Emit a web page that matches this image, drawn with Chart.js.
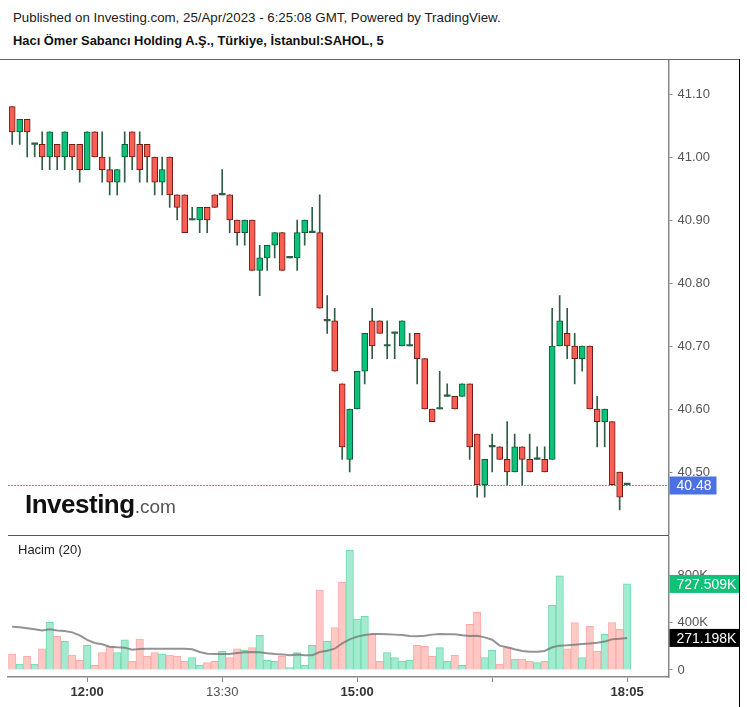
<!DOCTYPE html>
<html>
<head>
<meta charset="utf-8">
<script src="https://cdn.jsdelivr.net/npm/chart.js@4.4.0/dist/chart.umd.min.js"></script>
<style>
  body { margin: 0; background: #fff; width: 747px; height: 707px; overflow: hidden; position: relative;
         font-family: "Liberation Sans", Arial, sans-serif; }
  .abs { position: absolute; }
  #hdr1 { left: 13px; top: 10px; font-size: 13.3px; color: #1a1a1a; white-space: nowrap; }
  #hdr2 { left: 13px; top: 33px; font-size: 12.9px; font-weight: bold; color: #111; white-space: nowrap; }
  #topLine { left: 0; top: 59px; width: 740px; height: 1px; background: #666; }
  #sepLine { left: 8px; top: 535px; width: 661px; height: 1px; background: #555; }
  #rBorder { left: 739px; top: 59px; width: 1px; height: 648px; background: #000; }
  #logo { left: 25px; top: 489px; white-space: nowrap; }
  #logo b { font-size: 26px; color: #111; letter-spacing: -0.5px; }
  #logo span { font-size: 19px; color: #555; }
  #volTitle { left: 18px; top: 542px; font-size: 13px; color: #222; }
  #priceCanvas { left: 0; top: 60px; width: 747px; height: 475px; }
  #volCanvas { left: 0; top: 536px; width: 747px; height: 171px; }
</style>
</head>
<body>
<div id="hdr1" class="abs">Published on Investing.com, 25/Apr/2023 - 6:25:08 GMT, Powered by TradingView.</div>
<div id="hdr2" class="abs">Hacı Ömer Sabancı Holding A.Ş., Türkiye, İstanbul:SAHOL, 5</div>
<canvas id="priceCanvas" class="abs" width="747" height="475"></canvas>
<canvas id="volCanvas" class="abs" width="747" height="171"></canvas>
<div id="topLine" class="abs"></div>
<div id="sepLine" class="abs"></div>
<div id="rBorder" class="abs"></div>
<div id="logo" class="abs"><b>Investing</b><span>.com</span></div>
<div id="volTitle" class="abs">Hacim (20)</div>

<script>
// 5-minute bars, 11:10 .. 17:55, then the 18:05 closing bar
const categories = [];
for (let m = 11 * 60 + 10; m <= 17 * 60 + 55; m += 5) {
  categories.push(String(Math.floor(m / 60)).padStart(2, '0') + ':' + String(m % 60).padStart(2, '0'));
}
categories.push('18:05');

const opens = [
  41.08, 41.04, 41.06, 41.02, 41.02, 41.00, 41.02, 41.00, 41.02, 41.02,
  40.98, 41.04, 41.00, 40.98, 40.96, 41.00, 41.04, 41.02, 41.02, 41.00,
  40.96, 41.00, 40.94, 40.94, 40.90, 40.90, 40.92, 40.94, 40.94, 40.94,
  40.90, 40.88, 40.90, 40.82, 40.84, 40.86, 40.88, 40.84, 40.84, 40.88,
  40.88, 40.88, 40.74, 40.74, 40.64, 40.52, 40.60, 40.66, 40.74, 40.74,
  40.70, 40.72, 40.70, 40.70, 40.72, 40.68, 40.60, 40.60, 40.62, 40.62,
  40.62, 40.64, 40.56, 40.48, 40.54, 40.54, 40.52, 40.50, 40.54, 40.52,
  40.52, 40.52, 40.52, 40.70, 40.72, 40.70, 40.68, 40.70, 40.60, 40.58,
  40.58, 40.50, 40.48
];
const highs = [
  41.08, 41.06, 41.06, 41.02, 41.04, 41.04, 41.02, 41.04, 41.02, 41.02,
  41.04, 41.04, 41.04, 41.00, 40.98, 41.04, 41.04, 41.04, 41.02, 41.00,
  41.00, 41.00, 40.94, 40.94, 40.92, 40.92, 40.92, 40.94, 40.98, 40.94,
  40.90, 40.90, 40.90, 40.86, 40.86, 40.88, 40.88, 40.84, 40.90, 40.90,
  40.92, 40.94, 40.78, 40.76, 40.64, 40.60, 40.66, 40.72, 40.76, 40.74,
  40.74, 40.72, 40.74, 40.72, 40.72, 40.68, 40.60, 40.66, 40.64, 40.62,
  40.64, 40.64, 40.56, 40.52, 40.56, 40.54, 40.58, 40.56, 40.54, 40.56,
  40.54, 40.54, 40.76, 40.78, 40.76, 40.72, 40.70, 40.70, 40.62, 40.60,
  40.58, 40.50, 40.48
];
const lows = [
  41.02, 41.02, 41.00, 41.00, 40.98, 40.98, 40.98, 40.98, 40.98, 40.96,
  40.98, 41.00, 40.96, 40.94, 40.94, 40.96, 40.98, 40.96, 40.96, 40.94,
  40.94, 40.92, 40.90, 40.88, 40.90, 40.88, 40.88, 40.92, 40.94, 40.88,
  40.86, 40.86, 40.82, 40.78, 40.82, 40.84, 40.82, 40.84, 40.82, 40.86,
  40.88, 40.76, 40.72, 40.66, 40.52, 40.50, 40.60, 40.64, 40.68, 40.72,
  40.68, 40.68, 40.70, 40.70, 40.64, 40.60, 40.58, 40.60, 40.62, 40.60,
  40.62, 40.52, 40.46, 40.46, 40.50, 40.52, 40.48, 40.50, 40.48, 40.50,
  40.52, 40.50, 40.52, 40.70, 40.68, 40.64, 40.66, 40.60, 40.54, 40.54,
  40.48, 40.44, 40.48
];
const closes = [
  41.04, 41.06, 41.04, 41.02, 41.00, 41.04, 41.00, 41.04, 41.00, 40.98,
  41.04, 41.00, 40.98, 40.96, 40.98, 41.02, 41.00, 40.98, 41.00, 40.96,
  40.98, 40.94, 40.92, 40.88, 40.90, 40.92, 40.90, 40.92, 40.94, 40.90,
  40.88, 40.90, 40.82, 40.84, 40.86, 40.88, 40.82, 40.84, 40.88, 40.90,
  40.88, 40.76, 40.74, 40.66, 40.54, 40.60, 40.66, 40.72, 40.70, 40.72,
  40.70, 40.72, 40.74, 40.70, 40.68, 40.60, 40.58, 40.60, 40.62, 40.60,
  40.64, 40.54, 40.48, 40.52, 40.54, 40.52, 40.50, 40.54, 40.52, 40.50,
  40.52, 40.50, 40.70, 40.74, 40.70, 40.68, 40.70, 40.60, 40.58, 40.60,
  40.48, 40.46, 40.48
];
// volume in thousands
const volumes = [
  135, 51, 116, 51, 178, 403, 285, 242, 127, 82,
  209, 39, 147, 197, 147, 254, 73, 262, 116, 147,
  135, 127, 116, 73, 104, 39, 62, 73, 158, 104,
  178, 166, 189, 293, 82, 73, 116, 20, 147, 39,
  209, 676, 242, 358, 741, 1012, 431, 454, 302, 73,
  147, 104, 73, 82, 209, 200, 116, 189, 73, 124,
  39, 386, 488, 104, 166, 51, 189, 93, 93, 73,
  62, 73, 547, 795, 178, 400, 104, 369, 158, 302,
  400, 344, 727.509
];
// 20-bar volume average
const volumeMA = [
  366, 361, 352, 344, 335, 344, 333, 330, 318, 293,
  254, 228, 217, 197, 192, 189, 172, 178, 180, 180,
  180, 180, 180, 180, 175, 152, 138, 135, 135, 135,
  144, 149, 152, 149, 141, 135, 132, 124, 130, 124,
  124, 152, 163, 180, 225, 259, 282, 296, 304, 304,
  302, 299, 296, 287, 285, 290, 299, 304, 302, 302,
  293, 287, 290, 276, 256, 206, 192, 175, 161, 155,
  155, 161, 192, 206, 209, 214, 220, 225, 231, 240,
  259, 265, 271.198
];
const priceTicks = [40.50, 40.60, 40.70, 40.80, 40.90, 41.00, 41.10];
const volumeTicks = [0, 400, 800];
const volumeTickLabels = ['0', '400K', '800K'];
const timeTickIdx = [10, 28, 46, 64, 82];
const timeTickLabels = ['12:00', '13:30', '15:00', '', '18:05'];
const boldTimeTicks = ['12:00', '15:00', '18:05'];

const UP = '#0cc27a', UP_EDGE = '#0d5b37';
const DOWN = '#fa5d52', DOWN_EDGE = '#6e1d17';
const WICK = '#2f5f46';
const FONT = '"Liberation Sans", Arial, sans-serif';
const X_MIN = -0.56, X_MAX = 87.51;
const AXIS_W = 78.5;

const isUp = i => closes[i] >= opens[i];
const isDoji = i => closes[i] === opens[i];

const bodyPts = categories.map((c, i) => ({ x: i, y: [Math.min(opens[i], closes[i]), Math.max(opens[i], closes[i])] }));
const wickPts = categories.map((c, i) => ({ x: i, y: [lows[i], highs[i]] }));
const volPts = categories.map((c, i) => ({ x: i, y: volumes[i] }));
const maPts = categories.map((c, i) => ({ x: i, y: volumeMA[i] }));

// keep tick labels from pushing the plot area in: the pane fills its canvas
function fitRightAxis(s) {
  s.width = AXIS_W;
  s.paddingTop = 0;
  s.paddingBottom = 0;
}

const lastPriceTag = {
  id: 'lastPriceTag',
  afterDraw(chart) {
    const { ctx, chartArea, scales: { y } } = chart;
    const last = closes[closes.length - 1];
    const py = Math.round(y.getPixelForValue(last)) + 0.5;
    ctx.save();
    ctx.strokeStyle = '#6a8cf0';
    ctx.lineWidth = 1;
    ctx.setLineDash([2, 1]);
    ctx.beginPath();
    ctx.moveTo(chartArea.left, py);
    ctx.lineTo(chartArea.right, py);
    ctx.stroke();
    ctx.fillStyle = '#4a72e6';
    ctx.fillRect(chartArea.right + 1, py - 9, 47, 18);
    ctx.fillStyle = '#fff';
    ctx.font = '14px ' + FONT;
    ctx.textBaseline = 'middle';
    ctx.fillText(last.toFixed(2), chartArea.right + 8, py + 1);
    ctx.restore();
  }
};

const volumeTags = {
  id: 'volumeTags',
  afterDraw(chart) {
    const { ctx, chartArea, scales: { y } } = chart;
    const tags = [
      { v: volumes[volumes.length - 1], bg: '#10c177' },
      { v: volumeMA[volumeMA.length - 1], bg: '#000' }
    ];
    ctx.save();
    ctx.font = '14px ' + FONT;
    ctx.textBaseline = 'middle';
    tags.forEach(t => {
      const py = y.getPixelForValue(t.v);
      ctx.fillStyle = t.bg;
      ctx.fillRect(chartArea.right + 1, py - 9, 70, 18);
      ctx.fillStyle = '#fff';
      ctx.fillText(t.v.toFixed(3) + 'K', chartArea.right + 8, py + 1);
    });
    ctx.restore();
  }
};

const xScale = {
  type: 'linear',
  min: X_MIN,
  max: X_MAX,
  offset: false
};

new Chart(document.getElementById('priceCanvas'), {
  type: 'bar',
  data: {
    datasets: [
      {
        data: bodyPts,
        grouped: false,
        order: 0,
        barThickness: 6,
        minBarLength: 1.5,
        borderSkipped: false,
        borderWidth: ctx => isDoji(ctx.dataIndex) ? 0 : 1,
        backgroundColor: ctx => isDoji(ctx.dataIndex) ? WICK : (isUp(ctx.dataIndex) ? UP : DOWN),
        borderColor: ctx => isUp(ctx.dataIndex) ? UP_EDGE : DOWN_EDGE
      },
      {
        data: wickPts,
        grouped: false,
        order: 1,
        barThickness: 1,
        borderWidth: 0,
        backgroundColor: WICK
      }
    ]
  },
  options: {
    responsive: false,
    maintainAspectRatio: false,
    animation: false,
    devicePixelRatio: 1,
    layout: { autoPadding: false, padding: { left: 8, right: 0, top: 0, bottom: 0 } },
    plugins: { legend: { display: false }, tooltip: { enabled: false } },
    scales: {
      x: { ...xScale, display: false, grid: { offset: false } },
      y: {
        position: 'right',
        min: 40.40,
        max: 41.154,
        afterFit: fitRightAxis,
        afterBuildTicks(s) { s.ticks = priceTicks.map(v => ({ value: v })); },
        ticks: { callback: v => v.toFixed(2), color: '#555', font: { family: FONT, size: 13 }, padding: 5 },
        grid: { drawOnChartArea: false, drawTicks: true, tickLength: 4, color: '#888' },
        border: { color: '#888', width: 1.5 }
      }
    }
  },
  plugins: [lastPriceTag]
});

new Chart(document.getElementById('volCanvas'), {
  type: 'bar',
  data: {
    datasets: [
      {
        type: 'line',
        data: maPts,
        order: 0,
        borderColor: 'rgba(120,120,120,0.8)',
        borderWidth: 2,
        pointRadius: 0,
        tension: 0
      },
      {
        data: volPts,
        grouped: false,
        order: 1,
        barThickness: 7.5,
        borderWidth: 1,
        borderSkipped: 'start',
        backgroundColor: ctx => isUp(ctx.dataIndex) ? '#a4ead0' : '#ffc8c5',
        borderColor: ctx => isUp(ctx.dataIndex) ? '#6fdcae' : '#ffaaa5'
      }
    ]
  },
  options: {
    responsive: false,
    maintainAspectRatio: false,
    animation: false,
    devicePixelRatio: 1,
    layout: { autoPadding: false, padding: { left: 8, right: 0, top: 0, bottom: 0 } },
    plugins: { legend: { display: false }, tooltip: { enabled: false } },
    scales: {
      x: {
        ...xScale,
        afterFit(s) { s.height = 30; s.paddingLeft = 0; s.paddingRight = 0; },
        afterBuildTicks(s) { s.ticks = timeTickIdx.map(v => ({ value: v })); },
        ticks: {
          autoSkip: false,
          maxRotation: 0,
          padding: 3,
          callback: (v, i) => timeTickLabels[i],
          color: ctx => boldTimeTicks.includes(timeTickLabels[ctx.index]) ? '#333' : '#555',
          font: ctx => ({ family: FONT, size: 13, weight: boldTimeTicks.includes(timeTickLabels[ctx.index]) ? 'bold' : 'normal' })
        },
        grid: { offset: false, drawOnChartArea: false, drawTicks: true, tickLength: 5, color: '#888' },
        border: { color: '#888', width: 1.5 }
      },
      y: {
        position: 'right',
        min: -59.2,
        max: 1132.7,
        afterFit: fitRightAxis,
        afterBuildTicks(s) { s.ticks = volumeTicks.map(v => ({ value: v })); },
        ticks: { callback: (v, i) => volumeTickLabels[i], color: '#555', font: { family: FONT, size: 13 }, padding: 5 },
        grid: { drawOnChartArea: false, drawTicks: true, tickLength: 4, color: '#888' },
        border: { color: '#888', width: 1.5 }
      }
    }
  },
  plugins: [volumeTags]
});
</script>
</body>
</html>
